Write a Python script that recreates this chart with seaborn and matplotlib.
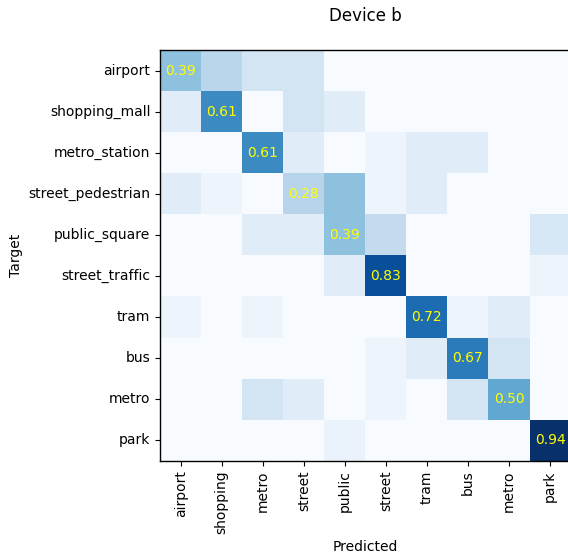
import matplotlib
matplotlib.use("Agg")
import matplotlib.pyplot as plt
import numpy as np
import pandas as pd
import seaborn as sns

targets = ['airport', 'shopping_mall', 'metro_station', 'street_pedestrian', 'public_square',
           'street_traffic', 'tram', 'bus', 'metro', 'park']
predicted = ['airport', 'shopping', 'metro', 'street', 'public', 'street', 'tram', 'bus', 'metro', 'park']

# rows = target class, columns = predicted class
airport = [0.39, 0.27, 0.17, 0.17, 0.00, 0.00, 0.00, 0.00, 0.00, 0.00]
shopping_mall = [0.11, 0.61, 0.00, 0.17, 0.11, 0.00, 0.00, 0.00, 0.00, 0.00]
metro_station = [0.00, 0.00, 0.61, 0.11, 0.00, 0.05, 0.11, 0.11, 0.00, 0.00]
street_pedestrian = [0.11, 0.05, 0.00, 0.28, 0.39, 0.05, 0.11, 0.00, 0.00, 0.00]
public_square = [0.00, 0.00, 0.11, 0.11, 0.39, 0.24, 0.00, 0.00, 0.00, 0.15]
street_traffic = [0.00, 0.00, 0.00, 0.00, 0.11, 0.83, 0.00, 0.00, 0.00, 0.05]
tram = [0.05, 0.00, 0.05, 0.00, 0.00, 0.00, 0.72, 0.05, 0.11, 0.00]
bus = [0.00, 0.00, 0.00, 0.00, 0.00, 0.05, 0.11, 0.67, 0.17, 0.00]
metro = [0.00, 0.00, 0.17, 0.11, 0.00, 0.05, 0.00, 0.17, 0.50, 0.00]
park = [0.00, 0.00, 0.00, 0.00, 0.06, 0.00, 0.00, 0.00, 0.00, 0.94]

cm = np.array([airport, shopping_mall, metro_station, street_pedestrian, public_square,
               street_traffic, tram, bus, metro, park])
df = pd.DataFrame(cm, index=targets)

# only the diagonal is written out
annot = np.full(cm.shape, '', dtype=object)
for i in range(len(targets)):
    annot[i, i] = f'{cm[i, i]:.2f}'

fig = plt.figure(figsize=(5.68, 5.54), dpi=100)
ax = fig.add_axes([0.282, 0.1684, 0.7225, 0.7413])

sns.heatmap(df, cmap='Blues', vmin=0, vmax=cm.max(), annot=annot, fmt='',
            annot_kws={'color': 'yellow', 'fontsize': 10}, cbar=False, square=False, ax=ax)

for side, spine in ax.spines.items():
    spine.set_visible(side != 'right')  # right edge is cut off in the original
    spine.set_color('black')
    spine.set_linewidth(1.0)

ax.set_xticks(np.arange(len(predicted)) + 0.5)
ax.set_xticklabels(predicted, rotation=90, fontsize=10)
ax.set_yticks(np.arange(len(targets)) + 0.5)
ax.set_yticklabels(targets, rotation=0, fontsize=10)
ax.tick_params(length=3.5, width=0.8)
ax.set_xlabel('Predicted', fontsize=10)
ax.set_ylabel('Target', fontsize=10)

fig.text(0.643, 0.972, 'Device b', ha='center', va='center', fontsize=12)

plt.savefig('out.png', dpi=100)
